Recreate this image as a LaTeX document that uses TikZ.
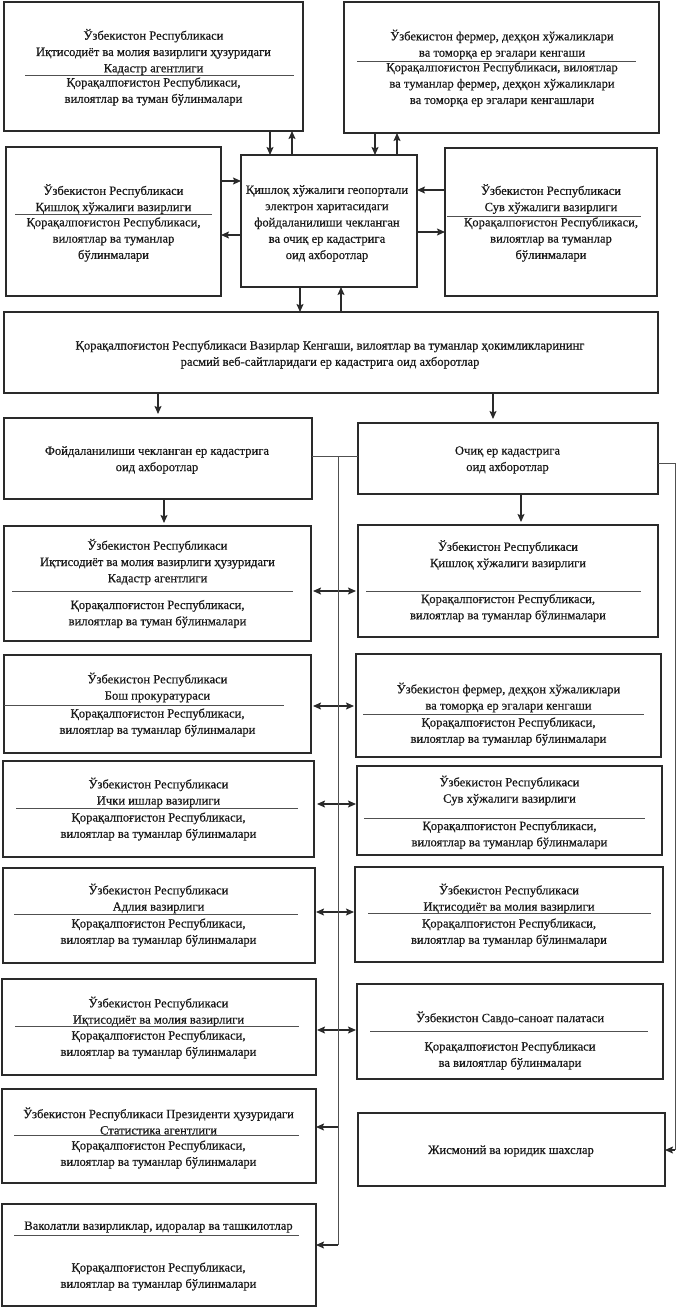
\documentclass[tikz,border=0pt]{standalone}
\usepackage{fontspec}
\setmainfont{Liberation Serif}[RawFeature={embolden=0.6}]
\usetikzlibrary{arrows.meta}

\definecolor{boxgray}{HTML}{2A2A2A}
\definecolor{linegray}{HTML}{505050}
\definecolor{inkgray}{HTML}{1A1A1A}

\tikzset{
  orgbox/.style={draw=boxgray, line width=1.4pt, inner sep=0pt, outer sep=0pt},
  boxtext/.style={align=center, text=inkgray, inner sep=0pt, font=\fontsize{12.6}{16.3}\selectfont},
  divider/.style={draw=linegray, line width=0.9pt},
  link/.style={draw=boxgray, line width=1.3pt, ->},
  twoway/.style={draw=boxgray, line width=1.3pt, <->},
  feed/.style={draw=linegray, line width=0.8pt}
}

\begin{document}
\begin{tikzpicture}[x=1pt, y=-1pt, >={Stealth[length=8pt, width=7pt, inset=1.5pt]}]
  \useasboundingbox (0,0) rectangle (677,1308);

  % top row
  \node[orgbox, minimum width=299pt, minimum height=129pt] (tl) at (153.5,66.5) {};
  \node[boxtext] (tltop) at (153.5,52) {Ўзбекистон Республикаси\\Иқтисодиёт ва молия вазирлиги ҳузуридаги\\Кадастр агентлиги};
  \draw[divider] (25,75) -- (294,75);
  \node[boxtext] (tlbot) at (153.5,91.5) {Қорақалпоғистон Республикаси,\\вилоятлар ва туман бўлинмалари};

  \node[orgbox, minimum width=315pt, minimum height=131pt] (tr) at (501.5,67.5) {};
  \node[boxtext] (trtop) at (502,44.5) {Ўзбекистон фермер, деҳқон хўжаликлари\\ва томорқа ер эгалари кенгаши};
  \draw[divider] (357,61) -- (636,61);
  \node[boxtext] (trbot) at (502,84.5) {Қорақалпоғистон Республикаси, вилоятлар\\ва туманлар фермер, деҳқон хўжаликлари\\ва томорқа ер эгалари кенгашлари};

  % middle row
  \node[orgbox, minimum width=215pt, minimum height=149pt] (ml) at (113.5,221.5) {};
  \node[boxtext] (mltop) at (113.5,199) {Ўзбекистон Республикаси\\Қишлоқ хўжалиги вазирлиги};
  \draw[divider] (15,214) -- (212,214);
  \node[boxtext] (mlbot) at (113.5,239.5) {Қорақалпоғистон Республикаси,\\вилоятлар ва туманлар\\бўлинмалари};

  \node[orgbox, minimum width=176pt, minimum height=132pt] (geo) at (329,221) {};
  \node[boxtext] (geotext) at (327,223.5) {Қишлоқ хўжалиги геопортали\\электрон харитасидаги\\фойдаланилиши чекланган\\ва очиқ ер кадастрига\\оид ахборотлар};

  \node[orgbox, minimum width=212pt, minimum height=148pt] (mr) at (551,222) {};
  \node[boxtext] (mrtop) at (551,199) {Ўзбекистон Республикаси\\Сув хўжалиги вазирлиги};
  \draw[divider] (447,216) -- (641,216);
  \node[boxtext] (mrbot) at (551,239.5) {Қорақалпоғистон Республикаси,\\вилоятлар ва туманлар\\бўлинмалари};

  \draw[link] (tl.south -| 270,0) -- (geo.north -| 270,0);
  \draw[link] (geo.north -| 292,0) -- (tl.south -| 292,0);
  \draw[link] (tr.south -| 375,0) -- (geo.north -| 375,0);
  \draw[link] (geo.north -| 397,0) -- (tr.south -| 397,0);
  \draw[link] (ml.east |- 0,181) -- (geo.west |- 0,181);
  \draw[link] (geo.west |- 0,235) -- (ml.east |- 0,235);
  \draw[link] (mr.west |- 0,190) -- (geo.east |- 0,190);
  \draw[link] (geo.east |- 0,232) -- (mr.west |- 0,232);

  % council websites
  \node[orgbox, minimum width=654pt, minimum height=81pt] (web) at (331,352.5) {};
  \node[boxtext] (webtext) at (330,354.5) {Қорақалпоғистон Республикаси Вазирлар Кенгаши, вилоятлар ва туманлар ҳокимликларининг\\расмий веб-сайтларидаги ер кадастрига оид ахборотлар};

  \draw[link] (geo.south -| 300,0) -- (web.north -| 300,0);
  \draw[link] (web.north -| 341,0) -- (geo.south -| 341,0);

  % two kinds of data
  \node[orgbox, minimum width=308pt, minimum height=81pt] (closed) at (158,458.5) {};
  \node[boxtext] (closedtext) at (157,460) {Фойдаланилиши чекланган ер кадастрига\\оид ахборотлар};
  \node[orgbox, minimum width=300pt, minimum height=71pt] (open) at (508,458.5) {};
  \node[boxtext] (opentext) at (507.5,460) {Очиқ ер кадастрига\\оид ахборотлар};

  \draw[link, shorten >=4pt] (web.south -| 158,0) -- (closed.north -| 158,0);
  \draw[link, shorten >=4pt] (web.south -| 493,0) -- (open.north -| 493,0);
  \draw[feed] (closed.east |- 0,456) -- (open.west |- 0,456);

  % left column
  \node[orgbox, minimum width=307pt, minimum height=115pt] (lagency) at (157.5,583.5) {};
  \node[boxtext] (lagencytop) at (157.5,562) {Ўзбекистон Республикаси\\Иқтисодиёт ва молия вазирлиги ҳузуридаги\\Кадастр агентлиги};
  \draw[divider] (12,591) -- (293,591);
  \node[boxtext] (lagencybot) at (157.5,614) {Қорақалпоғистон Республикаси,\\вилоятлар ва туман бўлинмалари};

  \node[orgbox, minimum width=307pt, minimum height=98pt] (prosecutor) at (157.5,704) {};
  \node[boxtext] (prosecutortop) at (157.5,687.5) {Ўзбекистон Республикаси\\Бош прокуратураси};
  \draw[divider] (4,705) -- (284,705);
  \node[boxtext] (prosecutorbot) at (157.5,722.5) {Қорақалпоғистон Республикаси,\\вилоятлар ва туманлар бўлинмалари};

  \node[orgbox, minimum width=311pt, minimum height=96pt] (interior) at (158.5,809) {};
  \node[boxtext] (interiortop) at (158.5,792.5) {Ўзбекистон Республикаси\\Ички ишлар вазирлиги};
  \draw[divider] (16,808) -- (298,808);
  \node[boxtext] (interiorbot) at (158.5,826.5) {Қорақалпоғистон Республикаси,\\вилоятлар ва туманлар бўлинмалари};

  \node[orgbox, minimum width=312pt, minimum height=95pt] (justice) at (159,915.5) {};
  \node[boxtext] (justicetop) at (158.5,898.5) {Ўзбекистон Республикаси\\Адлия вазирлиги};
  \draw[divider] (14,914) -- (298,914);
  \node[boxtext] (justicebot) at (158.5,932.5) {Қорақалпоғистон Республикаси,\\вилоятлар ва туманлар бўлинмалари};

  \node[orgbox, minimum width=314pt, minimum height=96pt] (lfinance) at (159,1027) {};
  \node[boxtext] (lfinancetop) at (158.5,1011.5) {Ўзбекистон Республикаси\\Иқтисодиёт ва молия вазирлиги};
  \draw[divider] (15,1026) -- (299,1026);
  \node[boxtext] (lfinancebot) at (158.5,1044.5) {Қорақалпоғистон Республикаси,\\вилоятлар ва туманлар бўлинмалари};

  \node[orgbox, minimum width=314pt, minimum height=94pt] (stats) at (159,1136) {};
  \node[boxtext] (statstop) at (158.5,1121) {Ўзбекистон Республикаси Президенти ҳузуридаги\\Статистика агентлиги};
  \draw[divider] (14,1135) -- (299,1135);
  \node[boxtext] (statsbot) at (158.5,1154.5) {Қорақалпоғистон Республикаси,\\вилоятлар ва туманлар бўлинмалари};

  \node[orgbox, minimum width=314pt, minimum height=102pt] (bodies) at (159,1255) {};
  \node[boxtext] (bodiestop) at (158.5,1227) {Ваколатли вазирликлар, идоралар ва ташкилотлар};
  \draw[divider] (14,1235) -- (299,1235);
  \node[boxtext] (bodiesbot) at (158.5,1276.5) {Қорақалпоғистон Республикаси,\\вилоятлар ва туманлар бўлинмалари};

  % right column
  \node[orgbox, minimum width=300pt, minimum height=112pt] (ragri) at (508,581) {};
  \node[boxtext] (ragritop) at (508,555) {Ўзбекистон Республикаси\\Қишлоқ хўжалиги вазирлиги};
  \draw[divider] (366,591) -- (641,591);
  \node[boxtext] (ragribot) at (508,608) {Қорақалпоғистон Республикаси,\\вилоятлар ва туманлар бўлинмалари};

  \node[orgbox, minimum width=305pt, minimum height=103pt] (farmers) at (508.5,705.5) {};
  \node[boxtext] (farmerstop) at (508.5,697.5) {Ўзбекистон фермер, деҳқон хўжаликлари\\ва томорқа ер эгалари кенгаши};
  \draw[divider] (363,714) -- (644,714);
  \node[boxtext] (farmersbot) at (508.5,731.5) {Қорақалпоғистон Республикаси,\\вилоятлар ва туманлар бўлинмалари};

  \node[orgbox, minimum width=305pt, minimum height=89pt] (water) at (509.5,810.5) {};
  \node[boxtext] (watertop) at (509.5,790.5) {Ўзбекистон Республикаси\\Сув хўжалиги вазирлиги};
  \draw[divider] (364,818) -- (645,818);
  \node[boxtext] (waterbot) at (509.5,835) {Қорақалпоғистон Республикаси,\\вилоятлар ва туманлар бўлинмалари};

  \node[orgbox, minimum width=308pt, minimum height=95pt] (rfinance) at (509,914.5) {};
  \node[boxtext] (rfinancetop) at (509,898.5) {Ўзбекистон Республикаси\\Иқтисодиёт ва молия вазирлиги};
  \draw[divider] (368,913) -- (651,913);
  \node[boxtext] (rfinancebot) at (509,932.5) {Қорақалпоғистон Республикаси,\\вилоятлар ва туманлар бўлинмалари};

  \node[orgbox, minimum width=306pt, minimum height=95pt] (chamber) at (510,1031.5) {};
  \node[boxtext] (chambertop) at (510,1018) {Ўзбекистон Савдо-саноат палатаси};
  \draw[divider] (370,1031) -- (648,1031);
  \node[boxtext] (chamberbot) at (510,1055.5) {Қорақалпоғистон Республикаси\\ва вилоятлар бўлинмалари};

  \node[orgbox, minimum width=307pt, minimum height=73pt] (persons) at (511.5,1149.5) {};
  \node[boxtext] (personstext) at (511,1151) {Жисмоний ва юридик шахслар};

  % links between columns
  \draw[link, shorten >=3pt] (closed.south -| 164,0) -- (lagency.north -| 164,0);
  \draw[link, shorten >=3pt] (open.south -| 521,0) -- (ragri.north -| 521,0);
  \draw[twoway, shorten <=2pt, shorten >=2pt] (lagency.east |- 0,591) -- (ragri.west |- 0,591);
  \draw[twoway, shorten <=2pt, shorten >=2pt] (prosecutor.east |- 0,706) -- (farmers.west |- 0,706);
  \draw[twoway, shorten <=3pt, shorten >=1pt] (interior.east |- 0,804) -- (water.west |- 0,804);
  \draw[twoway, shorten <=1pt, shorten >=1pt] (justice.east |- 0,912) -- (rfinance.west |- 0,912);
  \draw[twoway, shorten <=1pt, shorten >=1pt] (lfinance.east |- 0,1030) -- (chamber.west |- 0,1030);

  % feed lines
  \coordinate (trunk) at (338,456);
  \coordinate (tap7) at (338,1127);
  \coordinate (tap8) at (338,1245);
  \draw[feed] (trunk) -- (tap8);
  \draw[link] (tap7) -- (stats.east |- tap7);
  \draw[link] (tap8) -- (bodies.east |- tap8);

  \coordinate (rim) at (675,463);
  \coordinate (rimlow) at (675,1150);
  \draw[feed] (open.east |- rim) -- (rim) -- (rimlow);
  \draw[link] (rimlow) -- (persons.east |- rimlow);
\end{tikzpicture}
\end{document}
